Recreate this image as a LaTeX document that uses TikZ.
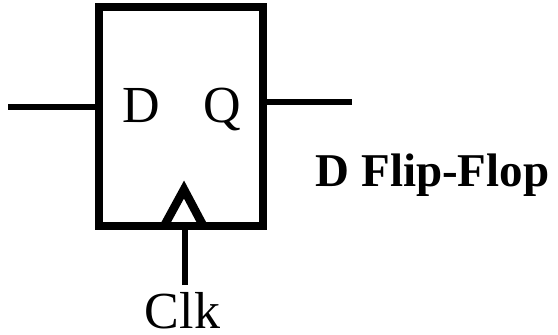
\documentclass[tikz,border=0pt]{standalone}
\usepackage{fontspec}
\setmainfont{Liberation Serif}
\begin{document}
\begin{tikzpicture}[x=1pt,y=-1pt]
    \useasboundingbox (0,0) rectangle (558,335);
    \tikzset{wire/.style={line width=6pt},
        pin/.style={font=\fontsize{52}{52}\selectfont,inner sep=0pt,anchor=base}}

    \node[draw=black,line width=8pt,outer sep=0pt,minimum width=164pt,minimum height=219pt,inner sep=0pt] (ff) at (181,116.5) {};
    \node[pin] (d) at (141.5,122) {D};
    \node[pin] (q) at (222.5,122) {Q};
    \node[pin] (clk) at (182.5,328) {Clk};
    \node[font=\bfseries\fontsize{47}{47}\selectfont,inner sep=0pt,anchor=base] (name) at (432.5,186) {D Flip-Flop};

    \coordinate (in) at (8,106.5);
    \coordinate (out) at (352,102);
    \coordinate (clkin) at (185,285);
    \coordinate (tipa) at (165.2,224);
    \coordinate (tipb) at (202.3,224);
    \coordinate (tipc) at (184,189.5);

    \path[wire,draw] (in) -- ([xshift=3pt]ff.west |- in);
    \path[wire,draw] ([xshift=-3pt]ff.east |- out) -- (out);
    \path[wire,draw] (clkin) -- (clkin |- ff.south);
    \path[line width=8.5pt,draw,miter limit=10] (tipa) -- (tipc) -- (tipb);
\end{tikzpicture}
\end{document}
